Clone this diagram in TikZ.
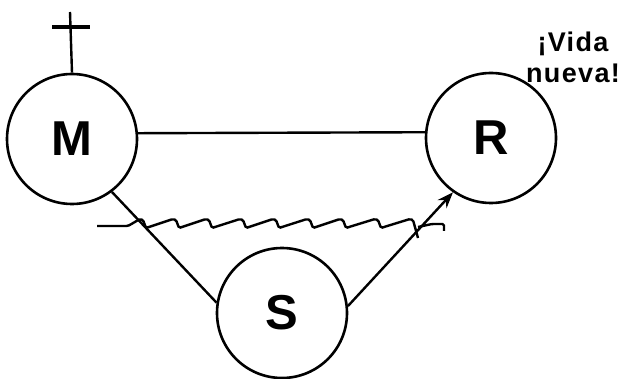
\documentclass[tikz,border=0pt]{standalone}
\usepackage{fontspec}
\setmainfont{Liberation Sans}
\newfontfamily\spacedfont[LetterSpace=5]{Liberation Sans}
\usetikzlibrary{arrows.meta}
\begin{document}
\begin{tikzpicture}[x=1pt,y=-1pt,
  circ/.style={circle,draw,line width=2.6pt,minimum size=130pt,inner sep=0pt,
    font=\fontsize{49}{49}\selectfont\bfseries},
  conn/.style={line width=2.4pt},
  wave/.style={line width=2.4pt,rounded corners=1.5pt}]
\useasboundingbox (0,0) rectangle (623,379);
\node[circ] (M) at (72,139) {M};
\node[circ] (R) at (491,138) {R};
\node[circ] (S) at (282,313) {S};
% cross
\coordinate (ctop) at (70,12);
\coordinate (cl) at (52,27);
\coordinate (cr) at (90,27);
\draw[conn] (M.north) -- (ctop);
\draw[line width=4pt] (cl) -- (cr);
% connectors
\draw[conn] (M.5) -- (R.175);
\draw[conn] (M.-53) -- (S.171);
\draw[conn,-{Stealth[length=16pt,width=12pt]}] (S.6) -- (R.-125);
% wavy line
\draw[wave] (97,226) -- (128,226)
  \foreach \p in {140,173,206,240,273,307,340,375} {
    -- (\p,219) -- (\p+3,220) -- (\p+6,228) -- (\p+9,227)
  } -- (410,219) -- (413,220) -- (418,238);
\draw[wave] (418,227) -- (432,224) -- (444,224) -- (444,231);
% label
\node[font=\fontsize{27}{31}\selectfont\bfseries\spacedfont,align=center] (L) at (573,57) {¡Vida\\nueva!};
\end{tikzpicture}
\end{document}
